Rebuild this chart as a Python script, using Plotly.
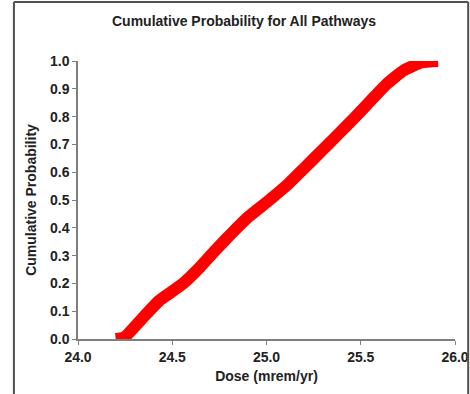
import plotly.graph_objects as go

# Values (dose in mrem/yr vs cumulative probability)
dose = [24.20, 24.244, 24.346, 24.431, 24.555, 24.647, 24.727, 24.812, 24.900,
        25.010, 25.116, 25.204, 25.293, 25.381, 25.469, 25.552, 25.637, 25.725,
        25.822, 25.91]
cum_prob = [0.0, 0.005, 0.078, 0.138, 0.198, 0.258, 0.318, 0.378, 0.437,
            0.497, 0.558, 0.617, 0.677, 0.737, 0.797, 0.857, 0.917, 0.965,
            0.995, 1.0]

x_ticks = [24.0, 24.5, 25.0, 25.5, 26.0]
y_ticks = [0.0, 0.1, 0.2, 0.3, 0.4, 0.5, 0.6, 0.7, 0.8, 0.9, 1.0]

FONT = "Arial, Liberation Sans, sans-serif"
TXT = "#222222"
AX = "#7f7f7f"

fig = go.Figure()
fig.add_trace(go.Scatter(
    x=dose, y=cum_prob, mode="lines",
    line=dict(color="#ff0000", width=12, shape="spline", smoothing=0.4),
    showlegend=False, cliponaxis=True, hoverinfo="skip",
))

fig.update_layout(
    width=470, height=394,
    margin=dict(l=78, r=15, t=61, b=55),
    paper_bgcolor="white", plot_bgcolor="white",
    font=dict(family=FONT, color=TXT),
    title=dict(text="<b>Cumulative Probability for All Pathways</b>",
               x=244/470, xanchor="center", y=1-21/394, yanchor="middle",
               font=dict(size=14, family=FONT, color=TXT)),
    xaxis=dict(range=[24, 26], tickvals=x_ticks,
               ticktext=[f"<b>{v:.1f}</b>" for v in x_ticks],
               showgrid=False, zeroline=False, showline=True, linecolor=AX,
               linewidth=1.5, ticks="outside", ticklen=4, tickcolor=AX,
               automargin=False,
               tickfont=dict(size=14, family=FONT, color=TXT),
               title=dict(text="<b>Dose (mrem/yr)</b>", standoff=8,
                          font=dict(size=14, family=FONT, color=TXT))),
    yaxis=dict(range=[0, 1], tickvals=y_ticks,
               ticktext=[f"<b>{v:.1f}</b>" for v in y_ticks],
               showgrid=False, zeroline=False, showline=True, linecolor=AX,
               linewidth=1.5, ticks="outside", ticklen=4, tickcolor=AX,
               automargin=False,
               tickfont=dict(size=14, family=FONT, color=TXT),
               title=dict(text="<b>Cumulative Probability</b>", standoff=10,
                          font=dict(size=14, family=FONT, color=TXT))),
    shapes=[
        dict(type="line", xref="paper", yref="paper",
             x0=-0.170, x1=-0.170, y0=-0.3, y1=1.212,
             line=dict(color="#505050", width=2)),
        dict(type="line", xref="paper", yref="paper",
             x0=-0.170, x1=1.035, y0=1.212, y1=1.212,
             line=dict(color="#505050", width=2)),
        dict(type="line", xref="paper", yref="paper",
             x0=1.035, x1=1.035, y0=-0.3, y1=1.212,
             line=dict(color="#505050", width=2)),
    ],
)

fig.write_html("out.html", config={"displayModeBar": False},
               post_script="document.body.style.margin='0';document.body.style.overflow='hidden';")
